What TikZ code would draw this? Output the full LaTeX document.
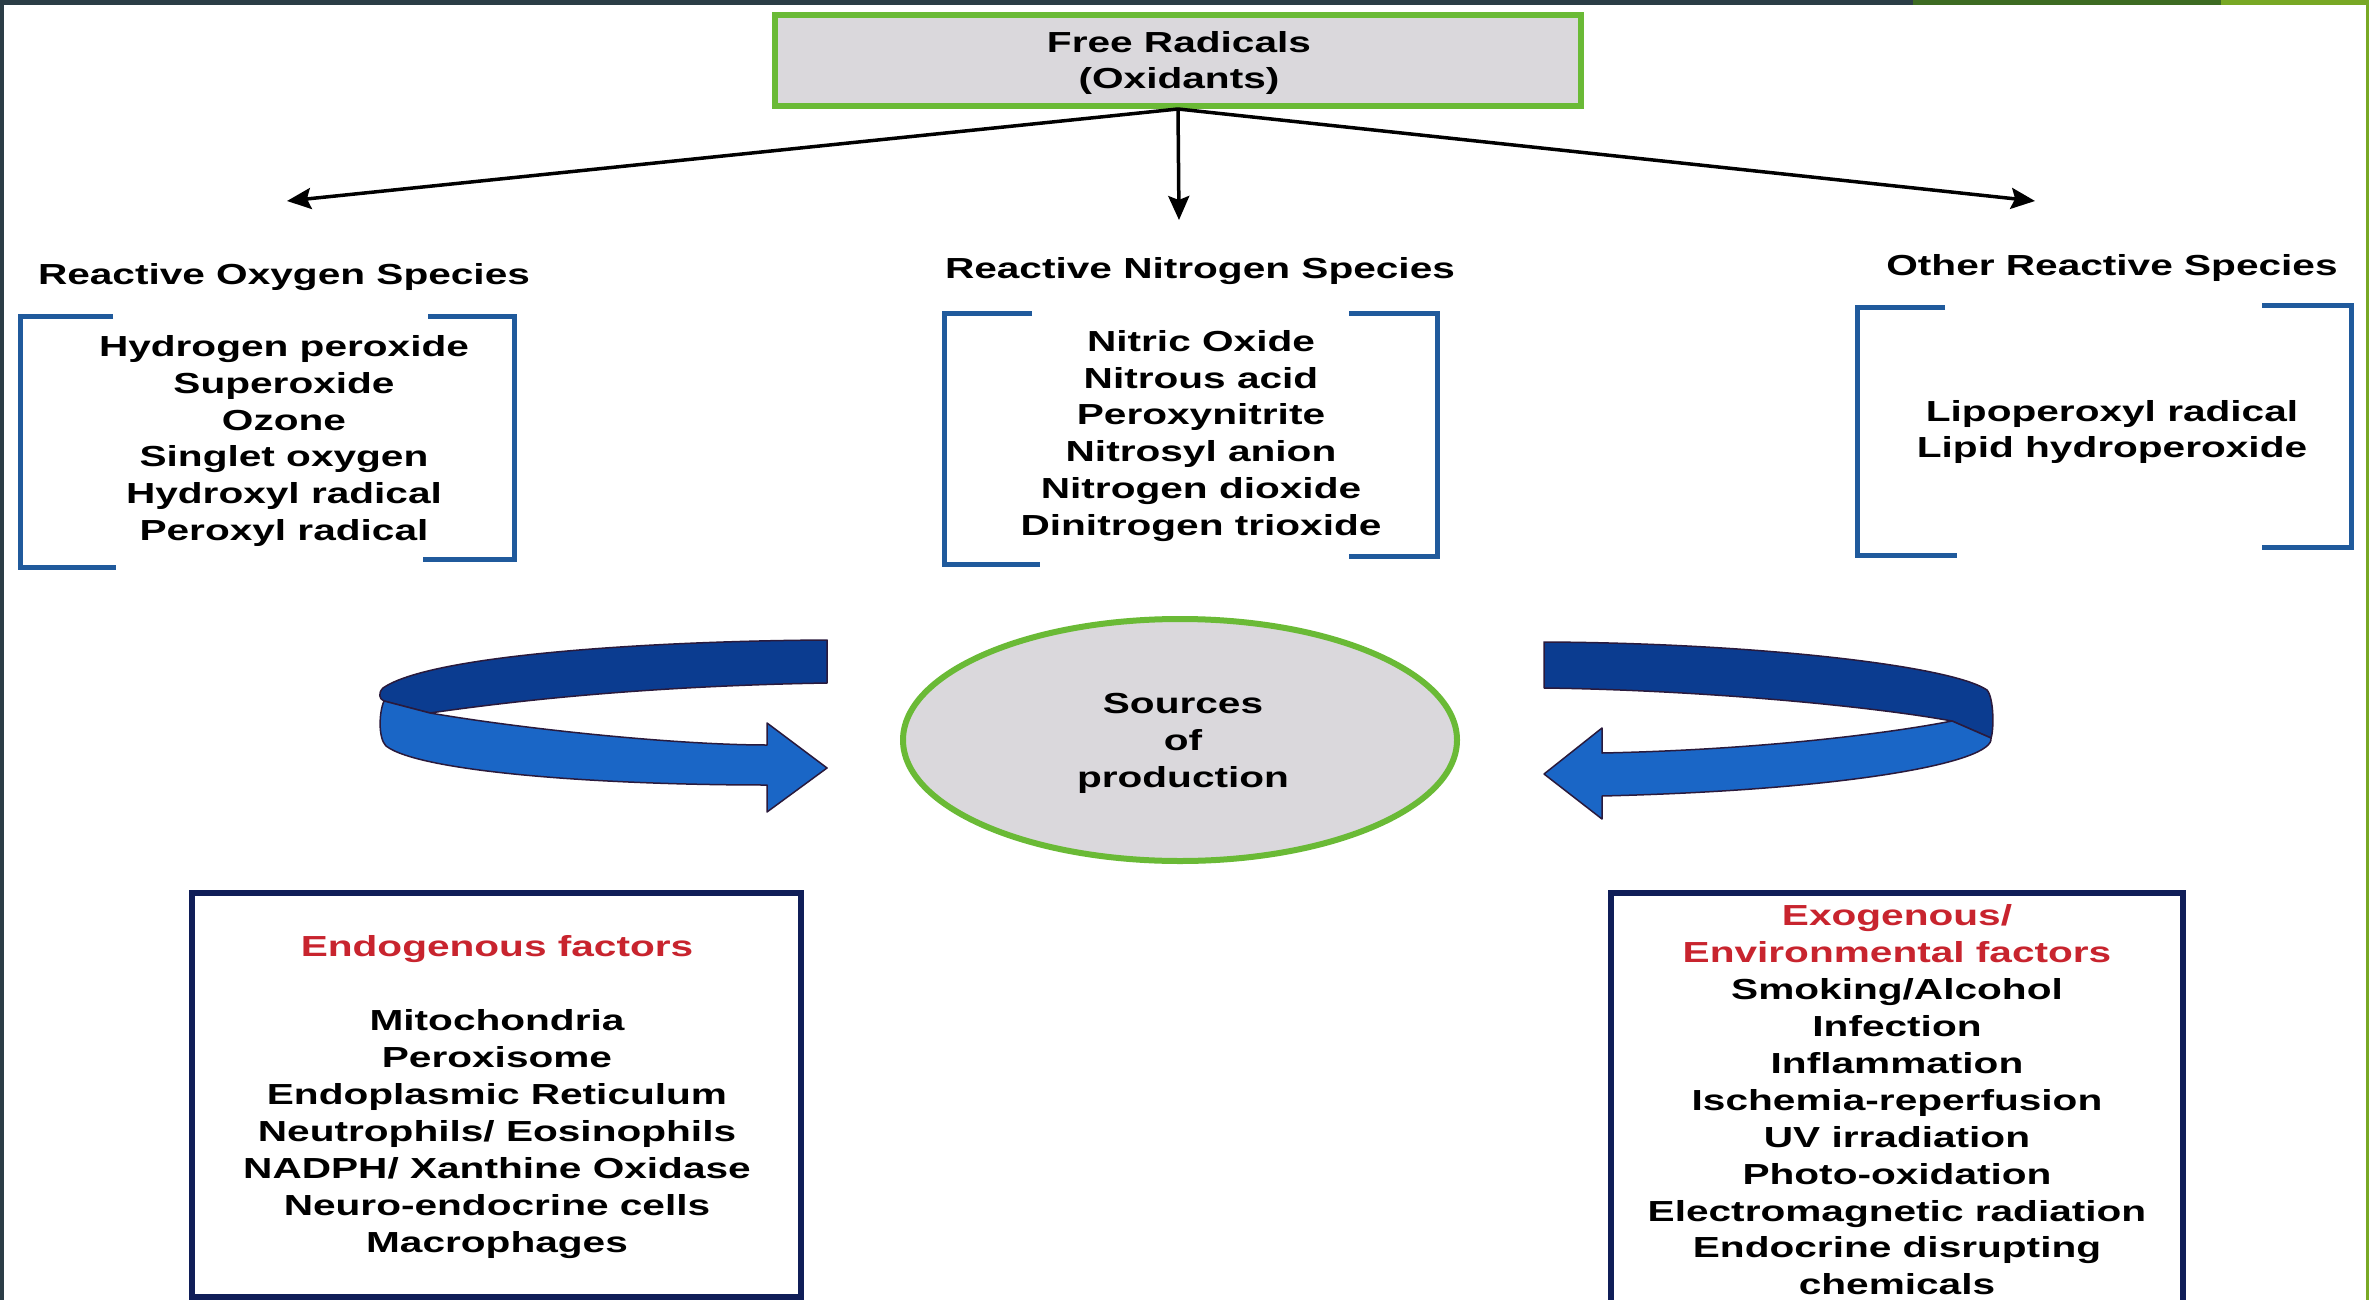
\documentclass[tikz,border=0pt]{standalone}
\usepackage{fontspec}
\setmainfont{Liberation Sans}[FakeStretch=1.4]
\usetikzlibrary{arrows.meta,shapes.geometric}
\definecolor{frameC}{HTML}{2B3D46}
\definecolor{dgreen}{HTML}{3D6B22}
\definecolor{lgreen}{HTML}{78A824}
\definecolor{boxgreen}{HTML}{6ABA36}
\definecolor{grayfill}{HTML}{DAD8DC}
\definecolor{brblue}{HTML}{205A9C}
\definecolor{navy}{HTML}{101E58}
\definecolor{redT}{HTML}{C8242E}
\definecolor{darkband}{HTML}{0B3C90}
\definecolor{lightband}{HTML}{1A66C6}
\definecolor{bandline}{HTML}{2A1A3C}
\begin{document}
\begin{tikzpicture}[x=1pt,y=-1pt,
  font=\fontsize{29}{36.9}\selectfont\bfseries,
  txt/.style={align=center,inner sep=0pt},
  greenbox/.style={draw=boxgreen,line width=6pt,fill=grayfill,inner sep=0pt,align=center},
  bracketline/.style={draw=brblue,line width=5pt},
  factorbox/.style={draw=navy,line width=6pt,fill=white,inner sep=0pt},
  conn/.style={line width=3.5pt,-{Stealth[length=24pt,width=21pt,inset=4pt]}},
  backband/.style={fill=darkband,draw=bandline,line width=1.5pt,line join=round},
  frontband/.style={fill=lightband,draw=bandline,line width=1.5pt,line join=round}]
\useasboundingbox (0,0) rectangle (2369,1300);
\fill[white] (0,0) rectangle (2369,1300);
% frame
\fill[frameC] (0,0) rectangle (1913,5);
\fill[dgreen] (1913,0) rectangle (2221,5);
\fill[lgreen] (2221,0) rectangle (2369,5);
\fill[frameC] (0,0) rectangle (4,1300);
\fill[lgreen] (2366,0) rectangle (2369,1300);

% top box
\node[greenbox,minimum width=806pt,minimum height=91pt] (fr) at (1178,60.5) {};
\node[txt] (frt) at (1179,63) {Free Radicals\\(Oxidants)};

% arrow ends
\coordinate (aL) at (287,201);
\coordinate (aC) at (1179,220);
\coordinate (aR) at (2035,201);
\draw[conn] (fr.south) -- (aL);
\draw[conn] (fr.south) -- (aC);
\draw[conn] (fr.south) -- (aR);

% headings
\node[txt] (ros) at (284,277) {Reactive Oxygen Species};
\node[txt] (rns) at (1200,271) {Reactive Nitrogen Species};
\node[txt] (ors) at (2112,268) {Other Reactive Species};

% lists
\node[txt] (rosl) at (284,441) {Hydrogen peroxide\\Superoxide\\Ozone\\Singlet oxygen\\Hydroxyl radical\\Peroxyl radical};
\node[txt] (rnsl) at (1201,436) {Nitric Oxide\\Nitrous acid\\Peroxynitrite\\Nitrosyl anion\\Nitrogen dioxide\\Dinitrogen trioxide};
\node[txt] (orsl) at (2112,432) {Lipoperoxyl radical\\Lipid hydroperoxide};

% brackets
\draw[bracketline] (113,316) -- (20,316) -- (20,567) -- (116,567);
\draw[bracketline] (428,316) -- (514,316) -- (514,559) -- (423,559);
\draw[bracketline] (1032,313) -- (944,313) -- (944,564) -- (1040,564);
\draw[bracketline] (1349,313) -- (1437,313) -- (1437,556) -- (1349,556);
\draw[bracketline] (1945,307) -- (1857,307) -- (1857,555) -- (1957,555);
\draw[bracketline] (2262,305) -- (2351,305) -- (2351,547) -- (2262,547);

% sources ellipse
\node[ellipse,draw=boxgreen,line width=6pt,fill=grayfill,inner sep=0pt,
      minimum width=554pt,minimum height=242pt] (src) at (1180,740) {};
\node[txt] (srct) at (1183,743) {Sources\\of\\production};

% left curved arrow
\filldraw[backband] (827,640) .. controls (650,641) and (430,655) .. (383,688)
  .. controls (378,693) and (379,699) .. (384,701) -- (430,713)
  .. controls (520,700) and (650,686) .. (827,683) -- cycle;
\filldraw[frontband] (384,701) -- (430,713) .. controls (530,730) and (680,745) .. (767,745)
  -- (767,723) -- (827,768) -- (767,812) -- (767,785)
  .. controls (600,785) and (420,772) .. (386,746)
  .. controls (378,738) and (379,712) .. (384,701) -- cycle;

% right curved arrow
\filldraw[backband] (1544,642) .. controls (1750,643) and (1950,665) .. (1987,690)
  .. controls (1994,698) and (1994,730) .. (1991,738) -- (1952,721)
  .. controls (1870,706) and (1700,690) .. (1544,688) -- cycle;
\filldraw[frontband] (1952,721) -- (1991,738) .. controls (1995,762) and (1850,790) .. (1602,796)
  -- (1602,819) -- (1544,774) -- (1602,728) -- (1602,753)
  .. controls (1750,750) and (1880,735) .. (1952,721) -- cycle;

% factor boxes
\node[factorbox,minimum width=609pt,minimum height=404pt] (endo) at (496.5,1095) {};
\node[factorbox,minimum width=572pt,minimum height=414pt] (exo) at (1897,1100) {};
\node[txt] (endot) at (497,1097) {\textcolor{redT}{Endogenous factors}\\[36.9pt]Mitochondria\\Peroxisome\\Endoplasmic Reticulum\\Neutrophils/ Eosinophils\\NADPH/ Xanthine Oxidase\\Neuro-endocrine cells\\Macrophages};
\node[txt] (exot) at (1897,1100) {\textcolor{redT}{Exogenous/}\\\textcolor{redT}{Environmental factors}\\Smoking/Alcohol\\Infection\\Inflammation\\Ischemia-reperfusion\\UV irradiation\\Photo-oxidation\\Electromagnetic radiation\\Endocrine disrupting\\chemicals};
\end{tikzpicture}
\end{document}
